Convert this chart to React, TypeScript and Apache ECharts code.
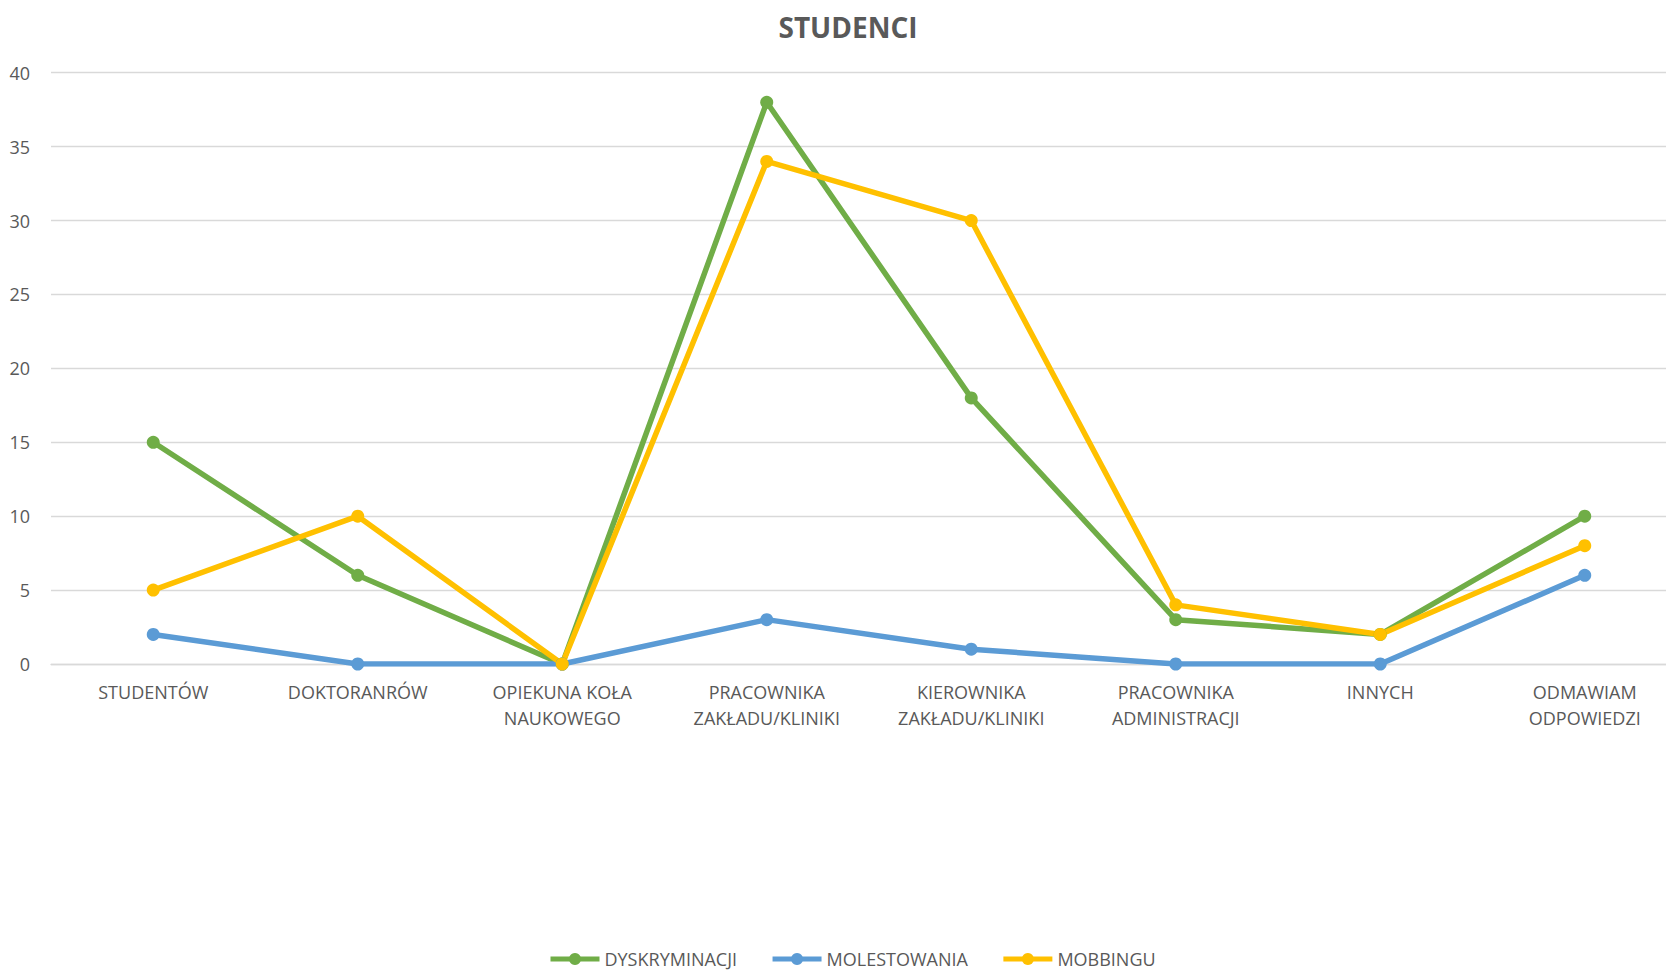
import React, { useEffect, useRef } from "react";
import * as echarts from "echarts";

const categories = [
  "STUDENTÓW",
  "DOKTORANRÓW",
  "OPIEKUNA KOŁA\nNAUKOWEGO",
  "PRACOWNIKA\nZAKŁADU/KLINIKI",
  "KIEROWNIKA\nZAKŁADU/KLINIKI",
  "PRACOWNIKA\nADMINISTRACJI",
  "INNYCH",
  "ODMAWIAM\nODPOWIEDZI",
];
const dyskryminacji = [15, 6, 0, 38, 18, 3, 2, 10];
const molestowania = [2, 0, 0, 3, 1, 0, 0, 6];
const mobbingu = [5, 10, 0, 34, 30, 4, 2, 8];
const seriesNames = ["DYSKRYMINACJI", "MOLESTOWANIA", "MOBBINGU"];
const colors = ["#70AD47", "#5B9BD5", "#FFC000"];

const FONT = "'Open Sans', sans-serif";
const TXT = "#595959";

export default function App() {
  const ref = useRef<HTMLDivElement>(null);
  useEffect(() => {
    document.body.style.margin = "0";
    const chart = echarts.init(ref.current!, undefined, { renderer: "svg" });
    const datasets = [dyskryminacji, molestowania, mobbingu];
    chart.setOption({
      animation: false,
      backgroundColor: "#ffffff",
      textStyle: { fontFamily: FONT },
      title: {
        text: "STUDENCI",
        left: 843,
        textAlign: "center",
        top: 8,
        textStyle: {
          fontFamily: FONT,
          fontWeight: "bold",
          fontSize: 28,
          lineHeight: 28,
          color: TXT,
        },
      },
      legend: {
        data: seriesNames,
        left: 548,
        top: 950,
        padding: 0,
        itemWidth: 49,
        itemHeight: 15,
        itemGap: 33,
        lineStyle: { width: 5 },
        textStyle: { fontFamily: FONT, fontSize: 18, lineHeight: 18, color: TXT },
      },
      grid: {
        left: 51,
        width: 1636,
        top: 72.7,
        height: 664 - 72.7,
        containLabel: false,
        outerBoundsMode: "none",
      },
      xAxis: {
        type: "category",
        data: categories,
        boundaryGap: true,
        axisTick: { show: false },
        axisLine: { lineStyle: { color: "#D9D9D9", width: 1.3 } },
        axisLabel: {
          interval: 0,
          margin: 15,
          fontFamily: FONT,
          fontSize: 18,
          lineHeight: 26,
          color: TXT,
        },
      },
      yAxis: {
        type: "value",
        min: 0,
        max: 40,
        interval: 5,
        axisLine: { show: false },
        axisTick: { show: false },
        splitLine: { lineStyle: { color: "#D9D9D9", width: 1.3 } },
        axisLabel: { margin: 21, fontFamily: FONT, fontSize: 18, color: TXT },
      },
      series: seriesNames.map((name, i) => ({
        name,
        type: "line",
        data: datasets[i],
        symbol: "circle",
        symbolSize: 13,
        color: colors[i],
        lineStyle: { width: 5.5, color: colors[i] },
        itemStyle: { color: colors[i] },
      })),
    });
    return () => chart.dispose();
  }, []);
  return <div ref={ref} style={{ width: 1666, height: 971 }} />;
}
